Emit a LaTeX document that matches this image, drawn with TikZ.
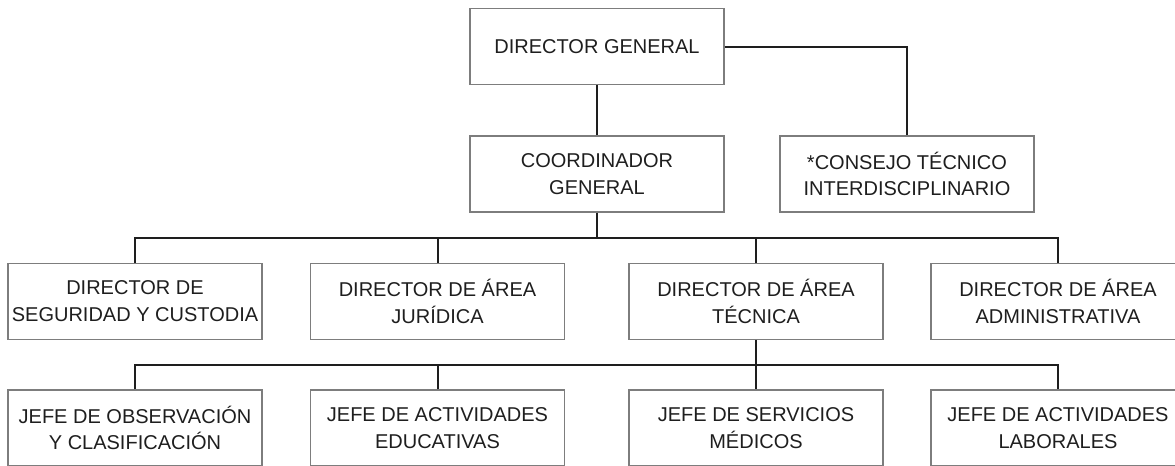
\documentclass[tikz,border=0pt]{standalone}
\usepackage{fontspec}
\setmainfont{Liberation Sans}
\definecolor{marco}{RGB}{125,125,125}
\definecolor{linea}{RGB}{30,30,30}

\begin{document}
\begin{tikzpicture}[x = 0.5pt, y = -0.5pt,
  caja/.style = {draw = marco, line width = 0.6pt, text = linea,
    minimum width = 127pt, minimum height = 38pt, inner sep = 0pt,
    align = center, font = \fontsize{10}{13.4}\selectfont},
  enlace/.style = {draw = linea, line width = 1pt}]
\useasboundingbox (0, 0) rectangle (1175, 466);
% direccion
\node [caja] (dg) at (597, 46.5) {DIRECTOR GENERAL};
\node [caja] (cg) at (597, 174) {COORDINADOR\\GENERAL};
\node [caja] (cti) at (907, 174) {*CONSEJO TÉCNICO\\INTERDISCIPLINARIO};
% directores de area
\node [caja] (dsc) at (135, 301.5) {DIRECTOR DE\\SEGURIDAD Y CUSTODIA};
\node [caja] (daj) at (437.5, 301.5) {DIRECTOR DE ÁREA\\JURÍDICA};
\node [caja] (dat) at (756, 301.5) {DIRECTOR DE ÁREA\\TÉCNICA};
\node [caja] (dad) at (1058, 301.5) {DIRECTOR DE ÁREA\\ADMINISTRATIVA};
% jefes
\node [caja] (joc) at (135, 428) {JEFE DE OBSERVACIÓN\\Y CLASIFICACIÓN};
\node [caja] (jae) at (437.5, 428) {JEFE DE ACTIVIDADES\\EDUCATIVAS};
\node [caja] (jsm) at (756, 428) {JEFE DE SERVICIOS\\MÉDICOS};
\node [caja] (jal) at (1058, 428) {JEFE DE ACTIVIDADES\\LABORALES};
\coordinate (b1) at (597, 238);
\coordinate (b2) at (756, 365);
% lineas
\draw [enlace] (dg.east) -| (cti.north);
\draw [enlace] (dg.south) -- (cg.north);
\draw [enlace] (cg.south) -- (b1);
\draw [enlace] (dsc.north) |- (b1) -| (dad.north);
\draw [enlace] (daj.north) -- (daj.north |- b1);
\draw [enlace] (dat.north) -- (dat.north |- b1);
\draw [enlace] (dat.south) -- (jsm.north);
\draw [enlace] (joc.north) |- (b2) -| (jal.north);
\draw [enlace] (jae.north) -- (jae.north |- b2);
\end{tikzpicture}
\end{document}
